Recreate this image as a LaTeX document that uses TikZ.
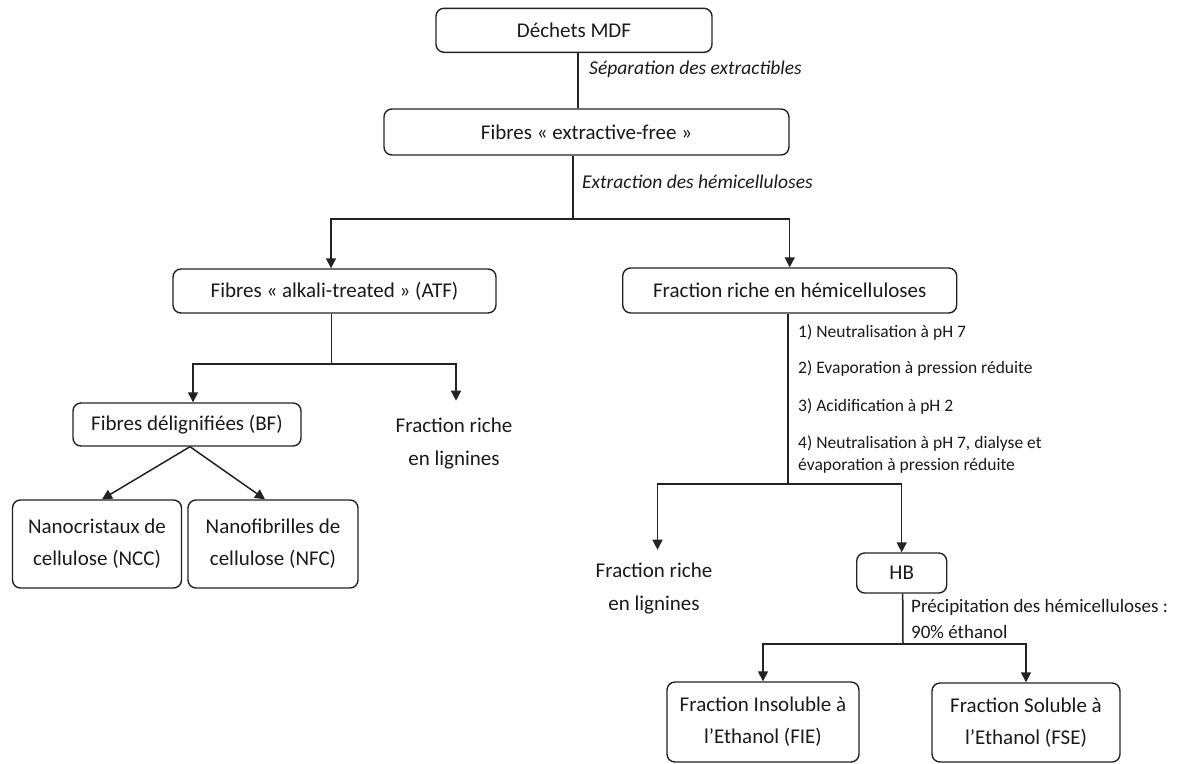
\documentclass[tikz,border=0pt]{standalone}
\usepackage{fontspec}
\setmainfont{Carlito}
\usetikzlibrary{arrows.meta}
\definecolor{linec}{RGB}{35,35,35}
\definecolor{textc}{RGB}{25,25,30}
\begin{document}
\begin{tikzpicture}[x=1pt,y=-1pt,
  box/.style={draw=linec, line width=1.4pt, rounded corners=8pt, inner sep=0pt,
    font=\fontsize{21}{32}\selectfont, align=center, text=textc},
  conn/.style={draw=linec, line width=1.5pt},
  arr/.style={conn, -{Triangle[length=10pt,width=10pt]}},
  ilbl/.style={font=\fontsize{19.5}{24}\selectfont\itshape, anchor=base west, inner sep=0pt, text=textc},
  slbl/.style={font=\fontsize{17.5}{22}\selectfont, anchor=base west, inner sep=0pt, text=textc},
  plbl/.style={font=\fontsize{19}{24}\selectfont, anchor=base west, inner sep=0pt, text=textc},
  ftxt/.style={font=\fontsize{21}{33}\selectfont, align=center, inner sep=0pt, text=textc}
]
\useasboundingbox (0,0) rectangle (1188,763);

% boxes
\node[box, minimum width=276pt, minimum height=44pt] (dechets) at (574,30.3) {Déchets MDF};
\node[box, minimum width=405pt, minimum height=46pt] (free) at (586.5,132) {Fibres « extractive-free »};
\node[box, minimum width=323pt, minimum height=44pt] (atf) at (334.5,291) {Fibres « alkali-treated » (ATF)};
\node[box, minimum width=334pt, minimum height=45pt] (hemi) at (789.7,290.5) {Fraction riche en hémicelluloses};
\node[box, minimum width=228pt, minimum height=43pt] (bf) at (187,424.5) {Fibres délignifiées (BF)};
\node[box, minimum width=169pt, minimum height=88pt] (ncc) at (97,544) {Nanocristaux de\\cellulose (NCC)};
\node[box, minimum width=170pt, minimum height=88pt] (nfc) at (273,544) {Nanofibrilles de\\cellulose (NFC)};
\node[box, minimum width=90pt, minimum height=40pt] (hb) at (901.7,573) {HB};
\node[box, minimum width=192pt, minimum height=80pt] (fie) at (763,722) {Fraction Insoluble à\\l’Ethanol (FIE)};
\node[box, minimum width=188pt, minimum height=79pt] (fse) at (1026,722.5) {Fraction Soluble à\\l’Ethanol (FSE)};

% free text nodes
\node[ftxt] (lig1) at (454,443.5) {Fraction riche\\en lignines};
\node[ftxt] (lig2) at (654,588.5) {Fraction riche\\en lignines};

% junctions
\coordinate (j1) at (573,219);
\coordinate (j2) at (331.5,364);
\coordinate (j3) at (788,484);
\coordinate (j4) at (903,644);

% connectors
\draw[conn] ([xshift=4pt]dechets.south) -- ([xshift=4pt]dechets.south |- free.north);
\draw[conn] (j1 |- free.south) -- (j1);
\draw[arr] (j1) -| ([xshift=-3.5pt]atf.north);
\draw[arr] (j1) -| (hemi.north);
\draw[conn] (j2 |- atf.south) -- (j2);
\draw[arr] (j2) -| ([xshift=6pt]bf.north);
\draw[arr] (j2) -| ([xshift=2pt,yshift=17pt]lig1.north);
\draw[arr] ([xshift=3pt]bf.south) -- ([xshift=5pt]ncc.north);
\draw[arr] ([xshift=3pt]bf.south) -- ([xshift=-8pt]nfc.north);
\draw[conn] (j3 |- hemi.south) -- (j3);
\draw[arr] (j3) -| ([xshift=3.5pt,yshift=13pt]lig2.north);
\draw[arr] (j3) -| (hb.north);
\draw[conn] ([xshift=1pt]hb.south) -- (j4);
\draw[arr] (j4) -| (fie.north);
\draw[arr] (j4) -| (fse.north);

% labels
\node[ilbl] (l1) at (589,74.3) {Séparation des extractibles};
\node[ilbl] (l2) at (582,188.3) {Extraction des hémicelluloses};
\node[slbl] (s1) at (798,337.3) {1) Neutralisation à pH 7};
\node[slbl] (s2) at (798,373.6) {2) Evaporation à pression réduite};
\node[slbl] (s3) at (798,411.6) {3) Acidification à pH 2};
\node[slbl] (s4) at (798,448.6) {4) Neutralisation à pH 7, dialyse et};
\node[slbl] (s5) at (798,470.6) {évaporation à pression réduite};
\node[plbl] (p1) at (911,612.8) {Précipitation des hémicelluloses :};
\node[plbl] (p2) at (911,638.1) {90\% éthanol};
\end{tikzpicture}
\end{document}
